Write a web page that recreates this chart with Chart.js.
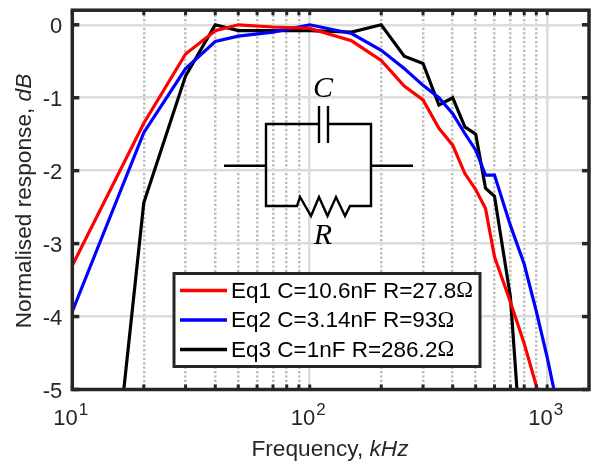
<!DOCTYPE html>
<html>
<head>
<meta charset="utf-8">
<style>
  html, body { margin: 0; padding: 0; background: #fff; }
  canvas { display: block; }
</style>
<script src="https://cdn.jsdelivr.net/npm/chart.js@4"></script>
</head>
<body>
<canvas id="chart" width="599" height="464"></canvas>
<script>
const freqs = [10, 20, 30, 40, 50, 70, 100, 150, 200, 250, 300, 350, 400, 450, 500, 550, 600, 700, 800, 900, 1000, 1100];
const eq1 = [-3.3, -1.35, -0.4, -0.08, 0, -0.03, -0.05, -0.22, -0.49, -0.84, -1.03, -1.42, -1.65, -2.04, -2.26, -2.52, -3.18, -3.8, -4.37, -4.95, -5.5, null];
const eq2 = [-3.93, -1.48, -0.6, -0.23, -0.155, -0.1, 0, -0.12, -0.35, -0.6, -0.83, -1.0, -1.22, -1.49, -1.72, -2.06, -2.06, -2.75, -3.28, -3.93, -4.56, -5.2];
const eq3 = [-11.6, -2.44, -0.7, 0, -0.08, -0.08, -0.08, -0.1, 0, -0.43, -0.53, -1.1, -1.0, -1.4, -1.5, -2.24, -2.35, -3.73, -6.4, null, null, null];

const seriesNames = ['Eq1 C=10.6nF R=27.8Ω', 'Eq2 C=3.14nF R=93Ω', 'Eq3 C=1nF R=286.2Ω'];
const seriesColors = ['#ff0000', '#0000ff', '#000000'];

const xMajorTicks = [10, 100, 1000];
const xMinorTicks = [20, 30, 40, 50, 60, 70, 80, 90, 200, 300, 400, 500, 600, 700, 800, 900];
const yTicks = [0, -1, -2, -3, -4, -5];

const frameColor = '#262626';
const sansFont = '"Liberation Sans", Arial, sans-serif';
const serifFont = '"Liberation Serif", "Times New Roman", serif';

// text with an italic tail, e.g. the unit in the axis titles
function drawMixedTitle(ctx, plain, italic, cx, cy) {
  ctx.save();
  ctx.translate(cx, cy);
  ctx.textBaseline = 'middle';
  ctx.textAlign = 'left';
  ctx.fillStyle = frameColor;
  ctx.font = '22.7px ' + sansFont;
  const w1 = ctx.measureText(plain).width;
  ctx.font = 'italic 22.7px ' + sansFont;
  const w2 = ctx.measureText(italic).width;
  ctx.font = '22.7px ' + sansFont;
  ctx.fillText(plain, -(w1 + w2) / 2, 0);
  ctx.font = 'italic 22.7px ' + sansFont;
  ctx.fillText(italic, -(w1 + w2) / 2 + w1, 0);
  ctx.restore();
}

function polyline(ctx, pts) {
  ctx.beginPath();
  pts.forEach((p, i) => (i ? ctx.lineTo(p[0], p[1]) : ctx.moveTo(p[0], p[1])));
  ctx.stroke();
}

function drawCircuit(ctx) {
  ctx.save();
  ctx.strokeStyle = '#000';
  ctx.lineWidth = 2.4;
  ctx.lineJoin = 'miter';
  polyline(ctx, [[224, 165.7], [266, 165.7]]);
  polyline(ctx, [[371, 165.7], [413, 165.7]]);
  polyline(ctx, [[319, 124], [266, 124], [266, 206], [297, 206], [300, 197], [311, 216], [319, 197], [327.5, 216], [336, 197], [345, 216], [350, 206], [371, 206], [371, 124], [328, 124]]);
  polyline(ctx, [[319, 106], [319, 143]]);
  polyline(ctx, [[328, 106], [328, 143]]);
  ctx.fillStyle = '#000';
  ctx.textAlign = 'center';
  ctx.textBaseline = 'middle';
  ctx.font = 'italic 30px ' + serifFont;
  ctx.fillText('C', 323, 89);
  ctx.fillText('R', 323, 236);
  ctx.restore();
}

function drawLegendBox(chart) {
  const ctx = chart.ctx;
  const rows = [290.5, 320, 349.5];
  ctx.save();
  ctx.fillStyle = '#fff';
  ctx.strokeStyle = frameColor;
  ctx.lineWidth = 3;
  ctx.fillRect(174, 273.5, 306, 93);
  ctx.strokeRect(174, 273.5, 306, 93);
  chart.data.datasets.forEach((ds, i) => {
    ctx.strokeStyle = ds.borderColor;
    ctx.lineWidth = 3.4;
    polyline(ctx, [[180, rows[i]], [227, rows[i]]]);
    const text = ds.label.slice(0, -1);
    ctx.fillStyle = '#000';
    ctx.textAlign = 'left';
    ctx.textBaseline = 'middle';
    ctx.font = '22.5px ' + sansFont;
    ctx.fillText(text, 231, rows[i] + 1);
    const w = ctx.measureText(text).width;
    ctx.font = '22.5px ' + serifFont;
    ctx.fillText(ds.label.slice(-1), 231 + w, rows[i] + 1);
  });
  ctx.restore();
}

const framePlugin = {
  id: 'frame',
  afterDraw(chart) {
    const ctx = chart.ctx;
    const { left, right, top, bottom } = chart.chartArea;
    const xs = chart.scales.x;
    const ys = chart.scales.y;

    drawCircuit(ctx);
    drawLegendBox(chart);

    // inward ticks on all four sides
    ctx.save();
    ctx.strokeStyle = frameColor;
    ctx.lineWidth = 3;
    xMajorTicks.concat(xMinorTicks).forEach(v => {
      const px = xs.getPixelForValue(v);
      polyline(ctx, [[px, top], [px, top + 5]]);
      polyline(ctx, [[px, bottom], [px, bottom - 5]]);
    });
    ctx.lineWidth = 3.5;
    yTicks.forEach(v => {
      const py = ys.getPixelForValue(v);
      polyline(ctx, [[left, py], [left + 7, py]]);
      polyline(ctx, [[right, py], [right - 7, py]]);
    });
    ctx.strokeRect(left, top, right - left, bottom - top);
    ctx.restore();

    // 10^n tick labels
    ctx.save();
    ctx.fillStyle = frameColor;
    ctx.textBaseline = 'middle';
    ctx.textAlign = 'left';
    xMajorTicks.forEach(v => {
      const px = xs.getPixelForValue(v);
      const exp = String(Math.round(Math.log10(v)));
      ctx.font = '22px ' + sansFont;
      const w1 = ctx.measureText('10').width;
      ctx.fillText('10', px - 19, 419);
      ctx.font = '17px ' + sansFont;
      ctx.fillText(exp, px - 18 + w1, 410);
    });
    ctx.restore();

    drawMixedTitle(ctx, 'Frequency, ', 'kHz', 330, 450);
    ctx.save();
    ctx.translate(25, 201);
    ctx.rotate(-Math.PI / 2);
    drawMixedTitle(ctx, 'Normalised response, ', 'dB', 0, 0);
    ctx.restore();
  }
};

new Chart(document.getElementById('chart'), {
  type: 'line',
  data: {
    labels: freqs,
    datasets: [
      { label: seriesNames[0], data: eq1, borderColor: seriesColors[0] },
      { label: seriesNames[1], data: eq2, borderColor: seriesColors[1] },
      { label: seriesNames[2], data: eq3, borderColor: seriesColors[2] }
    ]
  },
  plugins: [framePlugin],
  options: {
    responsive: false,
    animation: false,
    layout: { padding: { top: 10.2, right: 10, left: 0, bottom: 0 } },
    elements: {
      point: { radius: 0 },
      line: { borderWidth: 3.2, tension: 0, borderJoinStyle: 'miter', fill: false }
    },
    plugins: { legend: { display: false }, tooltip: { enabled: false } },
    scales: {
      x: {
        type: 'logarithmic',
        min: 10,
        max: 1500,
        afterBuildTicks(scale) {
          scale.ticks = xMajorTicks.concat(xMinorTicks).sort((a, b) => a - b).map(v => ({ value: v }));
        },
        afterFit(scale) {
          scale.height = 74.5;
          scale.paddingLeft = 0;
          scale.paddingRight = 0;
        },
        ticks: { display: false, autoSkip: false },
        border: {
          display: false,
          dash: ctx => (xMajorTicks.includes(ctx.tick.value) ? [] : [2.2, 2.2])
        },
        grid: {
          drawTicks: false,
          color: ctx => (xMajorTicks.includes(ctx.tick.value) ? '#dcdcdc' : '#bcbcbc'),
          lineWidth: ctx => (xMajorTicks.includes(ctx.tick.value) ? 2.5 : 2.5)
        }
      },
      y: {
        min: -5,
        max: 0.2,
        afterBuildTicks(scale) {
          scale.ticks = yTicks.map(v => ({ value: v }));
        },
        afterFit(scale) {
          scale.width = 72.3;
          scale.paddingTop = 0;
          scale.paddingBottom = 0;
        },
        ticks: {
          color: frameColor,
          font: { family: sansFont, size: 22 },
          padding: 10,
          labelOffset: 2,
          autoSkip: false
        },
        border: { display: false },
        grid: { drawTicks: false, color: '#dcdcdc', lineWidth: 2.5 }
      }
    }
  }
});
</script>
</body>
</html>
